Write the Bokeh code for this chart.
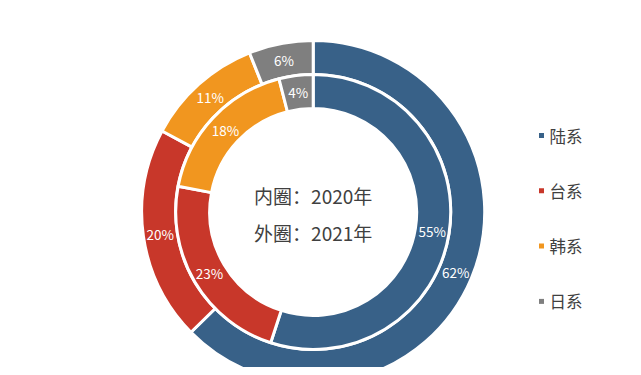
import numpy as np
from bokeh.plotting import figure
from bokeh.models import ColumnDataSource, Range1d
from bokeh.core.properties import value
from bokeh.embed import file_html
from bokeh.resources import INLINE

# ---- data ----
categories = ["陆系", "台系", "韩系", "日系"]
colors = ["#386188", "#C8372A", "#F1961F", "#7F7F7F"]
inner_2020 = [55, 23, 18, 4]
outer_2021 = [62, 20, 11, 6]
center_lines = ["内圈：2020年", "外圈：2021年"]

FONT = "Noto Sans CJK SC"
W, H = 625, 367
# data units == screen pixels; data y = 375 - picture y
p = figure(width=W, height=H, x_range=Range1d(0, W), y_range=Range1d(375 - H, 375),
           output_backend="svg", toolbar_location=None, min_border=0)
p.axis.visible = False
p.grid.visible = False
p.outline_line_color = None
p.background_fill_color = "white"
p.border_fill_color = "white"

cx, cy = 312.7, 375 - 211.5


def ring(vals, r_in, r_out, r_lab):
    v = np.array(vals, dtype=float)
    frac = v / v.sum()
    cum = np.concatenate([[0.0], np.cumsum(frac)])
    start = np.pi / 2 - 2 * np.pi * cum[:-1]
    end = np.pi / 2 - 2 * np.pi * cum[1:]
    mid = (start + end) / 2
    src = ColumnDataSource(dict(
        start=start, end=end, color=colors,
        lx=cx + r_lab * np.cos(mid), ly=cy + r_lab * np.sin(mid),
        label=[f"{x}%" for x in vals],
    ))
    p.annular_wedge(x=cx, y=cy, inner_radius=r_in, outer_radius=r_out,
                    start_angle="start", end_angle="end", direction="clock",
                    fill_color="color", line_color="white", line_width=3, source=src)
    p.text(x="lx", y="ly", text="label", source=src, text_color="white",
           text_font=value(FONT), text_font_size="13.5px",
           text_align="center", text_baseline="middle")


ring(outer_2021, 137.5, 171.5, 154.5)
ring(inner_2020, 103.5, 137.5, 120.5)

# center text
p.text(x=[cx, cx], y=[375 - 195, 375 - 232], text=center_lines,
       text_color="#404040", text_font=value(FONT), text_font_size="19px",
       text_align="center", text_baseline="middle")

# legend
ly = [375 - (135 + 55.3 * i) for i in range(len(categories))]
p.scatter(x=[541] * len(categories), y=ly, marker="square", size=5,
          fill_color=colors, line_color=None)
p.text(x=[549] * len(categories), y=ly, text=categories, text_color="#404040",
       text_font=value(FONT), text_font_size="16.5px",
       text_align="left", text_baseline="middle")

open("out.html", "w").write(file_html(p, INLINE))
